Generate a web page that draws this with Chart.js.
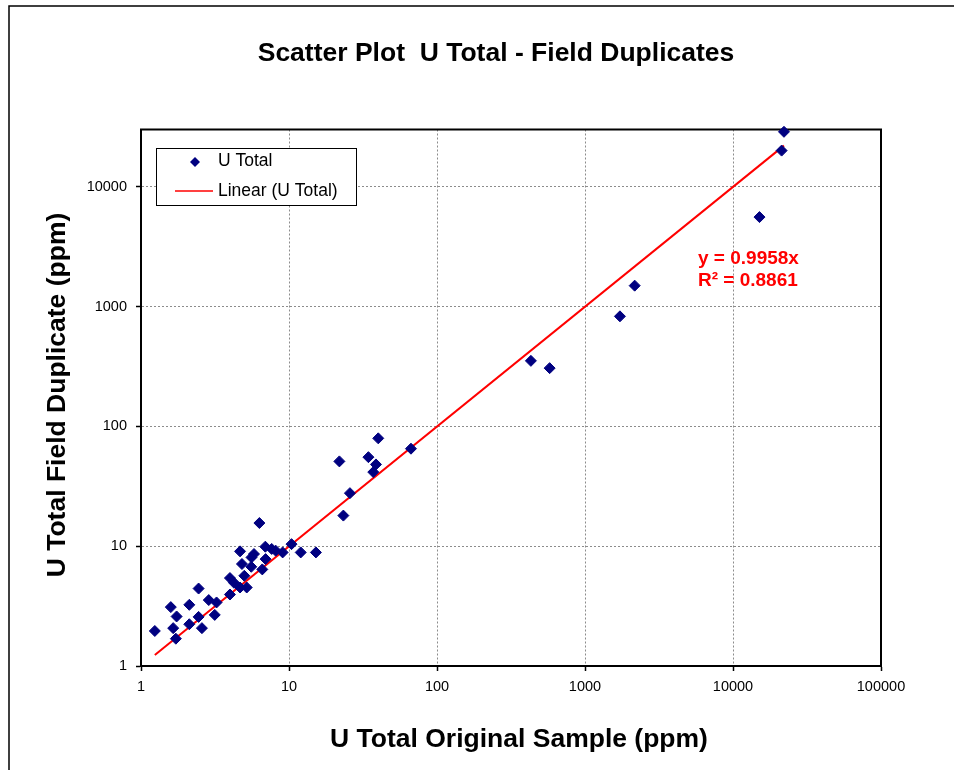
<!DOCTYPE html>
<html>
<head>
<meta charset="utf-8">
<script src="https://cdn.jsdelivr.net/npm/chart.js@4"></script>
<style>
  html, body { margin: 0; padding: 0; background: #fff; }
  #wrap { width: 954px; height: 770px; position: relative; }
</style>
</head>
<body>
<div id="wrap"><canvas id="chart" width="954" height="770"></canvas></div>
<script>
// U Total original sample vs field duplicate (ppm)
const xOriginal = [1.24, 1.59, 1.74, 1.65, 1.72, 2.12, 2.12, 2.45, 2.45, 2.58,
  2.87, 3.24, 3.15, 3.99, 3.99, 4.25, 4.67, 5.18, 4.67, 4.99,
  4.81, 5.56, 5.58, 5.80, 6.31, 6.6, 6.92, 6.95, 7.64, 8.13,
  9.06, 10.4, 12.0, 15.2, 21.9, 23.3, 25.8, 34.4, 38.7, 37.1,
  40.1, 66.7, 431, 577, 1722, 2166, 15100, 21300, 22100];
const yDuplicate = [1.96, 3.1, 2.59, 2.07, 1.69, 3.24, 2.23, 4.43, 2.57, 2.07,
  3.55, 3.39, 2.67, 3.95, 5.42, 4.95, 4.52, 4.52, 9.05, 5.66,
  7.1, 6.73, 8.06, 8.6, 15.6, 6.4, 9.9, 7.8, 9.48, 9.17,
  8.87, 10.4, 8.87, 8.87, 51, 18, 27.7, 55.3, 48.1, 41.5,
  79.4, 65.1, 352, 306, 828, 1493, 5575, 20000, 28700];
const decadeTicksX = [1, 10, 100, 1000, 10000, 100000];
const decadeTicksY = [1, 10, 100, 1000, 10000];
const trendSlope = 0.9958;
const trendR2 = 0.8861;

const FONT = "'Liberation Sans', Arial, sans-serif";

const points = xOriginal.map((x, i) => ({ x: x, y: yDuplicate[i] }));
const xMin = Math.min(...xOriginal), xMax = Math.max(...xOriginal);
const trend = [{ x: xMin, y: trendSlope * xMin }, { x: xMax, y: trendSlope * xMax }];

const decorations = {
  id: "decorations",
  beforeDatasetsDraw(chart) {
    const { ctx, chartArea: a } = chart;
    ctx.save();
    ctx.strokeStyle = "#000";
    ctx.lineWidth = 2;
    ctx.strokeRect(a.left, a.top, a.right - a.left, a.bottom - a.top);
    ctx.restore();
  },
  afterDraw(chart) {
    const ctx = chart.ctx;
    ctx.save();
    // outer frame
    ctx.strokeStyle = "#000";
    ctx.lineWidth = 1.5;
    ctx.beginPath();
    ctx.moveTo(9, 770); ctx.lineTo(9, 6); ctx.lineTo(954, 6);
    ctx.stroke();

    // titles
    ctx.fillStyle = "#000";
    ctx.textAlign = "center";
    ctx.textBaseline = "middle";
    ctx.font = "bold 26.5px " + FONT;
    ctx.fillText("Scatter Plot  U Total - Field Duplicates", 496, 54);
    ctx.font = "bold 26.5px " + FONT;
    ctx.fillText("U Total Original Sample (ppm)", 519, 740);
    ctx.save();
    ctx.translate(58, 395);
    ctx.rotate(-Math.PI / 2);
    ctx.fillText("U Total Field Duplicate (ppm)", 0, 0);
    ctx.restore();

    // legend
    const ds = chart.data.datasets;
    ctx.fillStyle = "#fff";
    ctx.fillRect(156.5, 148.5, 200, 57);
    ctx.strokeStyle = "#000";
    ctx.lineWidth = 1;
    ctx.strokeRect(156.5, 148.5, 200, 57);
    ctx.fillStyle = "#000080";
    ctx.beginPath();
    ctx.moveTo(195, 157); ctx.lineTo(200, 162); ctx.lineTo(195, 167); ctx.lineTo(190, 162);
    ctx.closePath(); ctx.fill();
    ctx.strokeStyle = "#ff0000";
    ctx.lineWidth = 1.5;
    ctx.beginPath(); ctx.moveTo(175, 191); ctx.lineTo(213, 191); ctx.stroke();
    ctx.fillStyle = "#000";
    ctx.textAlign = "left";
    ctx.font = "17.5px " + FONT;
    ctx.fillText(ds[0].label, 218, 161);
    ctx.fillText(ds[1].label, 218, 191);

    // trendline equation
    ctx.fillStyle = "#ff0000";
    ctx.font = "bold 19px " + FONT;
    ctx.fillText("y = " + trendSlope.toFixed(4) + "x", 698, 259);
    ctx.fillText("R\u00b2 = " + trendR2.toFixed(4), 698, 281);
    ctx.restore();
  }
};

function logAxis(ticks, min, max) {
  return {
    type: "logarithmic",
    min: min,
    max: max,
    afterBuildTicks: (scale) => { scale.ticks = ticks.map(v => ({ value: v })); },
    ticks: {
      color: "#000",
      font: { family: FONT, size: 14.5 },
      callback: (v) => String(v),
      maxRotation: 0,
      autoSkip: false
    },
    grid: {
      color: "#8c8c8c",
      lineWidth: 1,
      drawTicks: true,
      tickLength: 5,
      tickColor: "#000",
      tickWidth: 1.5,
      tickBorderDash: []
    },
    border: { display: true, color: "#000", width: 2, dash: [2, 2] }
  };
}

const xAxis = logAxis(decadeTicksX, 1, 100000);
xAxis.ticks.padding = 7;
xAxis.afterFit = (scale) => { scale.height = 104; };
const yAxis = logAxis(decadeTicksY, 1, 30000);
yAxis.ticks.padding = 9;
yAxis.afterFit = (scale) => { scale.width = 141; };

new Chart(document.getElementById("chart").getContext("2d"), {
  type: "scatter",
  data: {
    datasets: [
      {
        label: "U Total",
        data: points,
        pointStyle: "rectRot",
        pointRadius: 5.5,
        pointBackgroundColor: "#000080",
        pointBorderColor: "#000080",
        pointBorderWidth: 1,
        clip: false,
        order: 0
      },
      {
        type: "line",
        label: "Linear (U Total)",
        data: trend,
        borderColor: "#ff0000",
        borderWidth: 2,
        pointRadius: 0,
        fill: false,
        clip: false,
        order: 1
      }
    ]
  },
  options: {
    responsive: false,
    animation: false,
    layout: { padding: { left: 0, top: 129.5, right: 73, bottom: 0 } },
    plugins: { legend: { display: false }, title: { display: false }, tooltip: { enabled: false } },
    scales: { x: xAxis, y: yAxis }
  },
  plugins: [decorations]
});
</script>
</body>
</html>
